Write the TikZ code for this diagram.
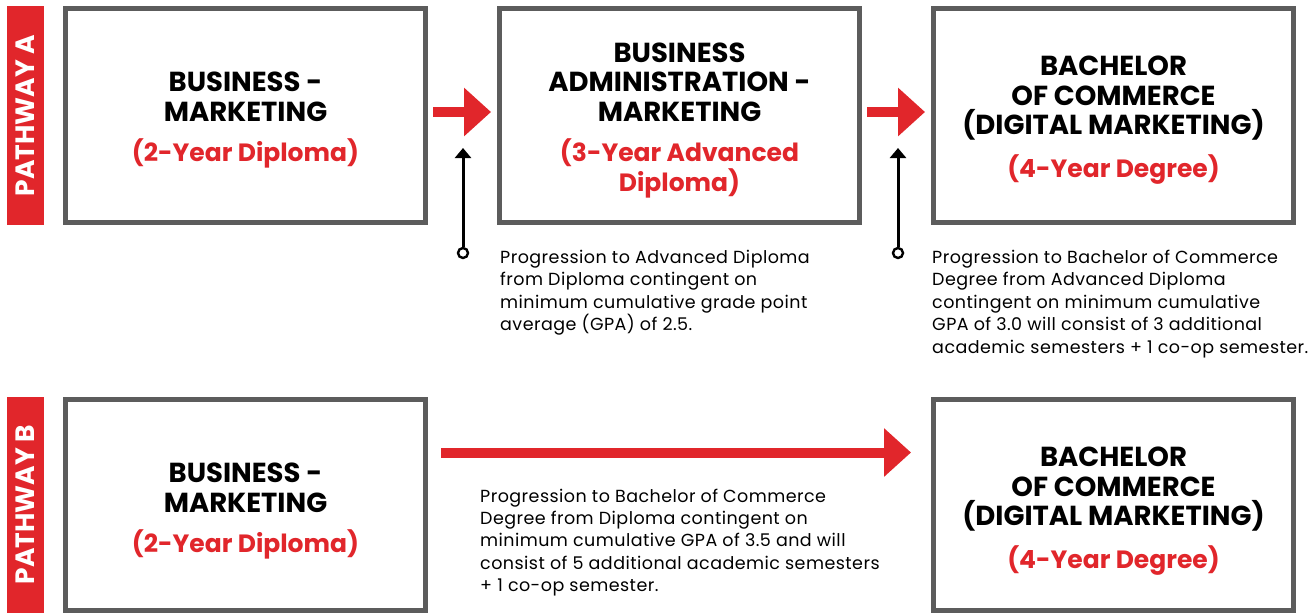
\documentclass[tikz,border=0pt]{standalone}
\usepackage{fontspec}
\setmainfont{Poppins}
\newfontfamily\notefamily[LetterSpace=2.6]{Poppins}
\usetikzlibrary{arrows.meta,positioning}

\definecolor{pathred}{HTML}{E1262B}
\definecolor{framegrey}{HTML}{5C5C5C}

\newcommand{\headfont}{\fontsize{27.5}{29.5}\selectfont\bfseries}
\newcommand{\awardfont}{\fontsize{25}{29}\selectfont\bfseries}
\newcommand{\notefont}{\notefamily\fontsize{17.5}{22.4}\selectfont}
\newcommand{\award}[1]{{\color{pathred}\awardfont #1}}
\newcommand{\headstrut}[1]{\rule{0pt}{#1}}

\tikzset{
  course/.style={draw=framegrey, line width=5pt, fill=white, minimum width=360pt,
    minimum height=214pt, align=center, inner sep=0pt, font=\headfont},
  pathway/.style={fill=pathred, minimum width=37pt, minimum height=219pt,
    inner sep=0pt, text=white, font=\fontsize{26.5}{26.5}\selectfont\bfseries},
  note/.style={anchor=north west, align=left, inner sep=0pt, font=\notefont},
  ring/.style={circle, draw, line width=2.4pt, fill=white, minimum size=10pt, inner sep=0pt},
  bigarrow/.style={draw=pathred, line width=10pt, -{Triangle[length=27pt,width=47pt]}},
  linkarrow/.style={line width=3pt, -{Triangle[length=10pt,width=16pt]}}
}

\begin{document}
\begin{tikzpicture}[x=1pt, y=1pt, node distance=434pt, on grid]
  \fill[white] (0,0) rectangle (1313,-613);
  \useasboundingbox (0,0) rectangle (1313,-613);

  % pathway A
  \node[course] (A1) at (245.5,-115.5) {\headstrut{29pt}BUSINESS -\\MARKETING\\[11pt]\award{(2-Year Diploma)}};
  \node[course] (A2) [right=of A1] {\headstrut{29pt}BUSINESS\\ADMINISTRATION -\\MARKETING\\[11pt]\award{(3-Year Advanced}\\\award{Diploma)}};
  \node[course] (A3) [right=of A2] {\headstrut{29pt}BACHELOR\\OF COMMERCE\\(DIGITAL MARKETING)\\[13pt]\award{(4-Year Degree)}};
  \node[pathway] (PA) [left=220pt of A1] {\rotatebox{90}{PATHWAY A}};

  \draw[bigarrow, shorten <=5pt, shorten >=6pt] ([yshift=3.5pt]A1.east) -- ([yshift=3.5pt]A2.west);
  \draw[bigarrow, shorten <=5pt, shorten >=6pt] ([yshift=3.5pt]A2.east) -- ([yshift=3.5pt]A3.west);

  \node[ring] (G1) at ([xshift=-34pt,yshift=-28pt]A2.south west) {};
  \coordinate (G1tip) at ([xshift=-34pt,yshift=77pt]A2.south west);
  \draw[linkarrow] (G1) -- (G1tip);
  \node[ring] (G2) at ([xshift=-33pt,yshift=-28pt]A3.south west) {};
  \coordinate (G2tip) at ([xshift=-33pt,yshift=77pt]A3.south west);
  \draw[linkarrow] (G2) -- (G2tip);

  \node[note] (N1) at ([xshift=3pt,yshift=-25pt]A2.south west)
    {Progression to Advanced Diploma\\from Diploma contingent on\\minimum cumulative grade point\\average (GPA) of 2.5.};
  \node[note] (N2) at ([xshift=1pt,yshift=-25pt]A3.south west)
    {Progression to Bachelor of Commerce\\Degree from Advanced Diploma\\contingent on minimum cumulative\\GPA of 3.0 will consist of 3 additional\\academic semesters + 1 co-op semester.};

  % pathway B
  \node[course, minimum height=211pt] (B1) [below=389pt of A1] {\headstrut{33pt}BUSINESS -\\MARKETING\\[11pt]\award{(2-Year Diploma)}};
  \node[course, minimum height=211pt] (B3) [below=389pt of A3] {\headstrut{33pt}BACHELOR\\OF COMMERCE\\(DIGITAL MARKETING)\\[13pt]\award{(4-Year Degree)}};
  \node[pathway, minimum height=216pt] (PB) [left=220pt of B1] {\rotatebox{90}{PATHWAY B}};

  \draw[bigarrow, shorten <=13pt, shorten >=20pt] ([yshift=52pt]B1.east) -- ([yshift=52pt]B3.west);

  \node[note] (N3) at ([xshift=52pt,yshift=-92pt]B1.north east)
    {Progression to Bachelor of Commerce\\Degree from Diploma contingent on\\minimum cumulative GPA of 3.5 and will\\consist of 5 additional academic semesters\\+ 1 co-op semester.};
\end{tikzpicture}
\end{document}
